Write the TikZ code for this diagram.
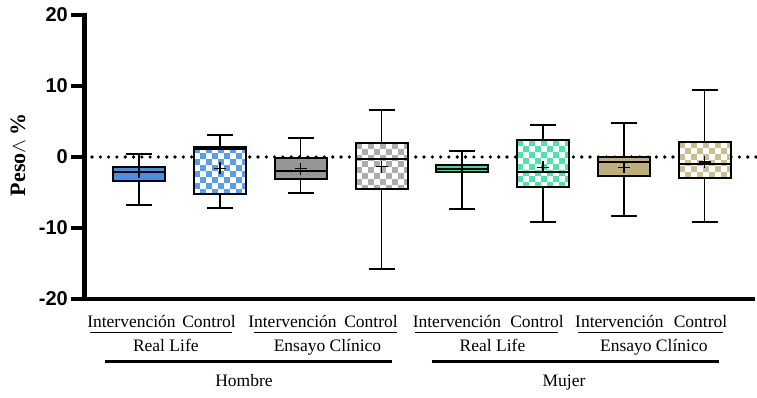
\documentclass[tikz,border=0pt]{standalone}
\usepackage{fontspec}
\setmainfont{Liberation Serif}
\newfontfamily\sansb{Liberation Sans}
\definecolor{cblue}{RGB}{74,144,226}
\definecolor{cblueL}{RGB}{88,158,236}
\definecolor{cgray}{RGB}{150,150,150}
\definecolor{cgrayL}{RGB}{172,172,172}
\definecolor{cgreen}{RGB}{72,214,160}
\definecolor{cgreenL}{RGB}{78,226,172}
\definecolor{ckhaki}{RGB}{190,175,125}
\definecolor{ckhakiL}{RGB}{202,190,142}
\tikzset{
  whisk/.style={line width=1.5pt},
  capl/.style={line width=2pt},
  boxl/.style={line width=2pt},
  meanl/.style={line width=1.5pt},
  axisl/.style={line width=4.5pt, line join=miter},
  ticklab/.style={font=\sansb\bfseries\fontsize{20}{22}\selectfont, anchor=east, inner sep=0pt},
  catlab/.style={font=\fontsize{17.5}{20}\selectfont, anchor=base, inner sep=0pt},
  uline/.style={line width=1.5pt},
  gline/.style={line width=3pt},
}
\newcommand{\boxpl}[9]{%
  \draw[whisk] (#1,#5) -- (#1,#2) (#1,#3) -- (#1,#6);
  \draw[capl] (#1-13,#5) -- (#1+13,#5) (#1-13,#6) -- (#1+13,#6);
  \ifnum#9=1
    \begin{scope}
      \clip (#1-26,#2) rectangle (#1+26,#3);
      \fill[white] (#1-26,#2) rectangle (#1+26,#3);
      \foreach \i in {0,...,8}{\foreach \j in {0,2,...,8}{
        \fill[#8] ({#1-26+6*\i},{#2+6*(\j+mod(\i,2))}) rectangle ++(6,6);}}
    \end{scope}
  \else
    \fill[#8] (#1-26,#2) rectangle (#1+26,#3);
  \fi
  \draw[boxl] (#1-26,#2) rectangle (#1+26,#3);
  \draw[boxl] (#1-26,#4) -- (#1+26,#4);
  \draw[meanl] (#1-6,#7) -- (#1+6,#7) (#1,#7-6) -- (#1,#7+6);
}
\begin{document}
\begin{tikzpicture}[x=1pt,y=-1pt]
\useasboundingbox (0,0) rectangle (757,398);
% zero line
\draw[line width=3.6pt, dash pattern=on 0pt off 8.3pt, line cap=round] (92,157) -- (757,157);
% axes
\draw[axisl] (71,15) -- (84.5,15) -- (84.5,299) -- (755,299);
\foreach \yy in {86,157,228,299} \draw[axisl] (71,\yy) -- (84.5,\yy);
\node[ticklab] (t20) at (68,15) {20};
\node[ticklab] (t10) at (68,86) {10};
\node[ticklab] (t0) at (68,157) {0};
\node[ticklab] (tm10) at (68,228) {-10};
\node[ticklab] (tm20) at (68,299) {-20};
\node[rotate=90, inner sep=0pt, font=\fontsize{22}{24}\selectfont] (ylab) at (18,155) {\textbf{Peso}$\wedge$\,\textbf{\%}};
% boxes
\boxpl{139}{166.7}{180.7}{172.3}{153.7}{204.7}{172.5}{cblue}{0}
\boxpl{220}{146.7}{194.3}{149}{135}{208}{168.3}{cblueL}{1}
\boxpl{300.7}{158}{178.7}{170.7}{137.7}{193.3}{168.7}{cgray}{0}
\boxpl{381.5}{142.7}{189.3}{159.3}{110}{269}{166.7}{cgrayL}{1}
\boxpl{462}{165.3}{172.3}{169.3}{151}{209}{169.5}{cgreen}{0}
\boxpl{543}{140}{187.3}{171.7}{124.7}{222.3}{167.3}{cgreenL}{1}
\boxpl{624}{157.3}{176}{161.7}{123.3}{216}{167.3}{ckhaki}{0}
\boxpl{704.7}{142.3}{177.7}{164.3}{89.7}{222.3}{162}{ckhakiL}{1}
% category labels
\node[catlab] (i1) at (131.5,327) {Intervención};
\node[catlab] (c1) at (209,327) {Control};
\node[catlab] (i2) at (292.5,327) {Intervención};
\node[catlab] (c2) at (371,327) {Control};
\node[catlab] (i3) at (457,327) {Intervención};
\node[catlab] (c3) at (537,327) {Control};
\node[catlab] (i4) at (619.4,327) {Intervención};
\node[catlab] (c4) at (700.5,327) {Control};
\draw[uline] (90,332.7) -- (232,332.7);
\draw[uline] (254,332.7) -- (396.7,332.7);
\draw[uline] (415,332.7) -- (558,332.7);
\draw[uline] (578,332.7) -- (722.7,332.7);
\node[catlab] (r1) at (165.8,351) {Real Life};
\node[catlab] (e1) at (327.5,351) {Ensayo Clínico};
\node[catlab] (r2) at (492.5,351) {Real Life};
\node[catlab] (e2) at (653.8,351) {Ensayo Clínico};
\draw[gline] (105,361.7) -- (391.7,361.7);
\draw[gline] (431.7,361.7) -- (719.3,361.7);
\node[catlab] (h) at (244,386) {Hombre};
\node[catlab] (m) at (564,386) {Mujer};
\end{tikzpicture}
\end{document}
